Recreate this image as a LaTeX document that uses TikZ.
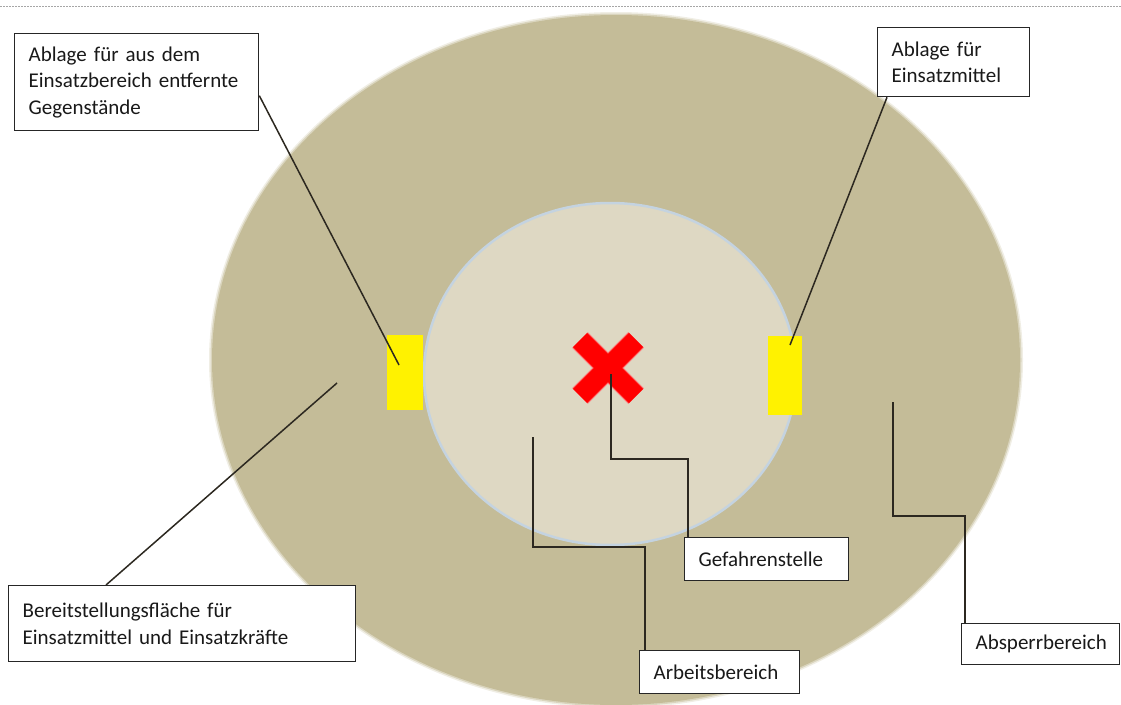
\documentclass[tikz,border=0pt]{standalone}
\usepackage{fontspec}
\setmainfont{Carlito}
\usetikzlibrary{calc}
\definecolor{sperr}{RGB}{196,188,152}
\definecolor{arbeit}{RGB}{222,216,195}
\definecolor{rand}{RGB}{196,211,224}
\definecolor{ink}{RGB}{44,40,32}
\begin{document}
\begin{tikzpicture}[x=1pt,y=-1pt,
  lb/.style={draw=black!85,fill=white,line width=1.3pt,anchor=north west,align=left,inner xsep=14pt,inner ysep=0pt,font=\fontsize{21}{26.5}\selectfont,text=black!90},
  gelb/.style={fill=yellow,inner sep=0pt},
  a/.style={draw=ink,line width=1.5pt}]
  \useasboundingbox (0,0) rectangle (1121,704);
  \draw[gray!70,dash pattern=on 1.5pt off 1.5pt,line width=0.8pt] (0,6) -- (1121,6);
  \fill[sperr,opacity=.25] (616,360) ellipse [x radius=407pt,y radius=348pt];
  \fill[sperr,opacity=.5] (616,360) ellipse [x radius=405.5pt,y radius=346.5pt];
  \fill[sperr] (616,360) ellipse [x radius=404pt,y radius=345pt];
  \filldraw[fill=arbeit,draw=rand,line width=2.5pt] (610,374) ellipse [x radius=186pt,y radius=171pt];
  \draw[red!55,line width=22pt] (580,340) -- (636,396) (580,396) -- (636,340);
  \draw[red,line width=20pt] (580,340) -- (636,396) (580,396) -- (636,340);
  \node[gelb,minimum width=36pt,minimum height=75pt] (gl) at (405,372.5) {};
  \node[gelb,minimum width=34pt,minimum height=79pt] (gr) at (785,375.5) {};
  \node[lb,text width=216pt,minimum height=97pt] (abl) at (14,33) {Ablage für aus dem\\Einsatzbereich entfernte\\Gegenstände};
  \node[lb,text width=124pt,minimum height=69pt] (ein) at (877,27) {Ablage für\\Einsatzmittel};
  \node[lb,text width=319pt,minimum height=76pt] (ber) at (8,585) {Bereitstellungsfläche für\\Einsatzmittel und Einsatzkräfte};
  \node[lb,text width=136pt,minimum height=43pt] (gef) at (684,537) {Gefahrenstelle};
  \node[lb,text width=132pt,minimum height=43pt] (arb) at (639,650) {Arbeitsbereich};
  \node[lb,text width=130pt,minimum height=41pt] (abs) at (961,623) {Absperrbereich};
  \coordinate (p1) at (399,365);
  \coordinate (p2) at (790,345);
  \coordinate (p3) at (337,383);
  \coordinate (p4) at (611,374);
  \coordinate (k4) at (688,459);
  \coordinate (p5) at (533,437);
  \coordinate (k5) at (645,547);
  \coordinate (p6) at (893,402);
  \coordinate (k6) at (965,516);
  \draw[a] ([yshift=-13.5pt]abl.east) -- (p1);
  \draw[a] ([xshift=10pt]ein.south west) -- (p2);
  \draw[a] ([xshift=98pt]ber.north west) -- (p3);
  \draw[a] (p4) |- (k4) -- (k4 |- gef.north);
  \draw[a] (p5) |- (k5) -- (k5 |- arb.north);
  \draw[a] (p6) |- (k6) -- (k6 |- abs.north);
\end{tikzpicture}
\end{document}
